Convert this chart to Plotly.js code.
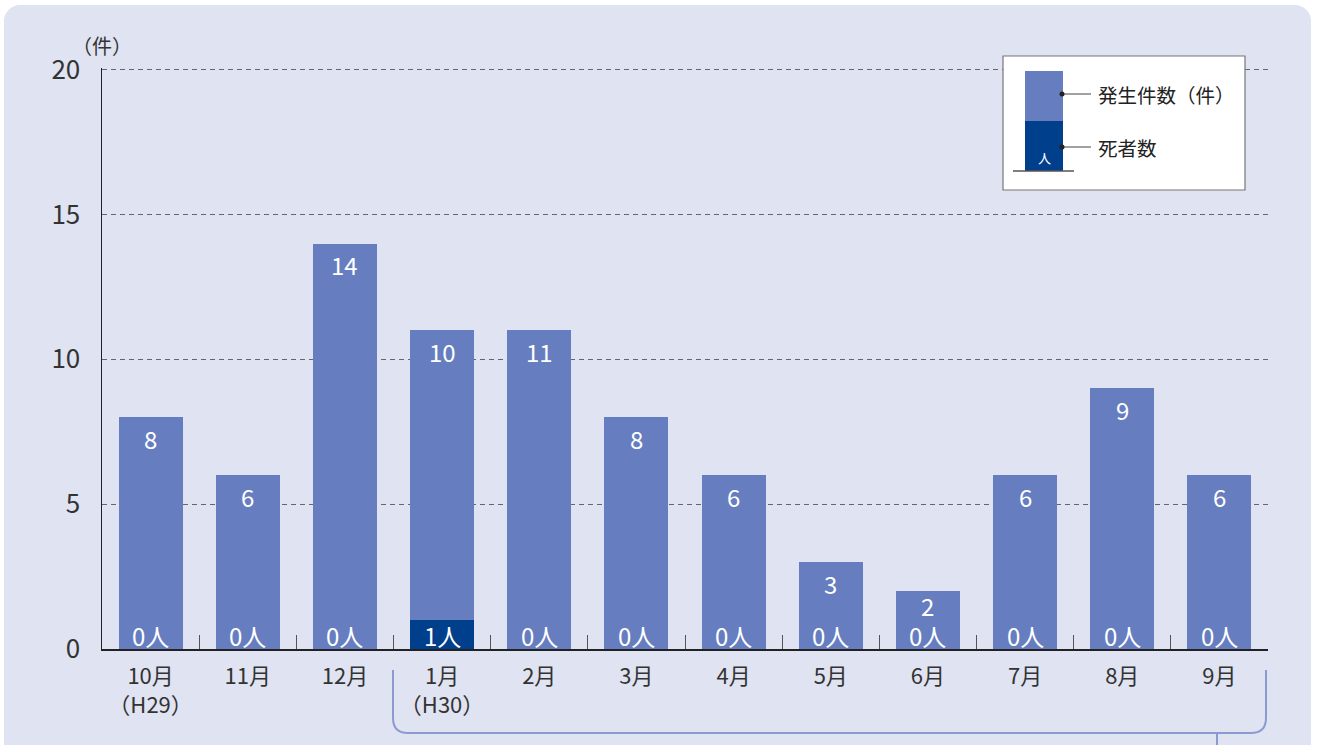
<!DOCTYPE html>
<html><head><meta charset="utf-8">
<script src="https://cdn.plot.ly/plotly-3.0.1.min.js"></script>
<style>
html,body{margin:0;padding:0;background:#fff;}
#wrap{position:absolute;left:4px;top:5px;width:1307px;height:760px;background:#e0e3f1;border-radius:16px;}
#chart{position:absolute;left:0;top:0;width:1317px;height:745px;}
</style></head><body>
<div id="wrap"></div>
<div id="chart"></div>
<script>
const months = ["10月","11月","12月","1月","2月","3月","4月","5月","6月","7月","8月","9月"];
const monthLabels = ["10月<br>（H29）","11月","12月","1月<br>（H30）","2月","3月","4月","5月","6月","7月","8月","9月"];
const incidents = [8,6,14,10,11,8,6,3,2,6,9,6];
const deaths = [0,0,0,1,0,0,0,0,0,0,0,0];
const yTicks = [0,5,10,15,20];

const FONT = '"Noto Sans CJK JP", "Noto Sans", sans-serif';
const LIGHT = '#667ec0';
const DARK = '#003f8b';

const traces = [
  {type:'bar', x:months, y:deaths, marker:{color:DARK, line:{width:0}}, width:0.66, hoverinfo:'skip', showlegend:false},
  {type:'bar', x:months, y:incidents, marker:{color:LIGHT, line:{width:0}}, width:0.66, hoverinfo:'skip', showlegend:false}
];

const annotations = [];
months.forEach((m,i)=>{
  const top = incidents[i] + deaths[i];
  annotations.push({x:m, y:top, xref:'x', yref:'y', text:String(incidents[i]), showarrow:false,
    yanchor:'middle', yshift:(top < 2.5 ? -14 : -21), font:{family:FONT, size:24, color:'#ffffff'}});
  annotations.push({x:m, y:0, xref:'x', yref:'y', text:deaths[i]+'人', showarrow:false,
    yanchor:'middle', yshift:14, font:{family:FONT, size:24, color:'#ffffff'}});
});
// unit label
annotations.push({xref:'paper', yref:'paper', x:0, y:1, xanchor:'center', yanchor:'middle', yshift:23,
  text:'（件）', showarrow:false, font:{family:FONT, size:20, color:'#333'}});

// legend box (paper coords: plot x 102..1268 => w 1166; y 68..649 => h 581)
function px(X){return (X-102)/1166;}
function py(Y){return (649-Y)/581;}
const shapes = [
  {type:'rect', xref:'paper', yref:'paper', x0:px(1003), x1:px(1245), y0:py(190), y1:py(56), fillcolor:'#ffffff', line:{color:'#777', width:1.2}},
  {type:'rect', xref:'paper', yref:'paper', x0:px(1025), x1:px(1063), y0:py(121), y1:py(71), fillcolor:LIGHT, line:{width:0}},
  {type:'rect', xref:'paper', yref:'paper', x0:px(1025), x1:px(1063), y0:py(171), y1:py(121), fillcolor:DARK, line:{width:0}},
  {type:'line', xref:'paper', yref:'paper', x0:px(1013), x1:px(1074), y0:py(171), y1:py(171), line:{color:'#555', width:1.5}},
  {type:'line', xref:'paper', yref:'paper', x0:px(1062), x1:px(1091), y0:py(94), y1:py(94), line:{color:'#444', width:1}},
  {type:'line', xref:'paper', yref:'paper', x0:px(1062), x1:px(1091), y0:py(147), y1:py(147), line:{color:'#444', width:1}},
  {type:'circle', xref:'paper', yref:'paper', x0:px(1059.5), x1:px(1064.5), y0:py(96.5), y1:py(91.5), fillcolor:'#222', line:{width:0}},
  {type:'circle', xref:'paper', yref:'paper', x0:px(1059.5), x1:px(1064.5), y0:py(149.5), y1:py(144.5), fillcolor:'#222', line:{width:0}},
  // bracket
  {type:'path', xref:'paper', yref:'paper',
    path:'M '+px(393)+','+py(670)+' L '+px(393)+','+py(718)+' Q '+px(393)+','+py(733)+' '+px(408)+','+py(733)+
         ' L '+px(1251)+','+py(733)+' Q '+px(1266)+','+py(733)+' '+px(1266)+','+py(718)+' L '+px(1266)+','+py(670),
    line:{color:'#8b9bd2', width:2}},
  {type:'line', xref:'paper', yref:'paper', x0:px(1217), x1:px(1217), y0:py(733), y1:py(746), line:{color:'#8b9bd2', width:2}}
];
annotations.push({xref:'paper', yref:'paper', x:px(1096), y:py(94), xanchor:'left', yanchor:'middle', text:'発生件数（件）', showarrow:false, font:{family:FONT, size:19.5, color:'#222'}});
annotations.push({xref:'paper', yref:'paper', x:px(1096), y:py(147), xanchor:'left', yanchor:'middle', text:'死者数', showarrow:false, font:{family:FONT, size:19.5, color:'#222'}});
annotations.push({xref:'paper', yref:'paper', x:px(1044), y:py(157), xanchor:'center', yanchor:'middle', text:'人', showarrow:false, font:{family:FONT, size:13, color:'#fff'}});

const layout = {
  width:1317, height:745,
  margin:{l:102, r:49, t:68, b:96},
  paper_bgcolor:'rgba(0,0,0,0)', plot_bgcolor:'rgba(0,0,0,0)',
  barmode:'stack', bargap:0.34,
  font:{family:FONT, color:'#333'},
  xaxis:{type:'category', categoryarray:months, tickvals:months, ticktext:monthLabels,
    showline:true, linecolor:'#222', linewidth:1.5, showgrid:false, zeroline:false,
    ticks:'inside', tickson:'boundaries', ticklen:14, tickcolor:'#555', tickwidth:1,
    ticklabelstandoff:7, tickangle:0,
    tickfont:{family:FONT, size:22, color:'#333'}, fixedrange:true},
  yaxis:{range:[0,20.06], tickvals:yTicks, ticktext:yTicks.map(String), showline:true, linecolor:'#222', linewidth:1.5,
    showgrid:true, gridcolor:'#666', griddash:'5px,4px', gridwidth:1, zeroline:false, ticks:'',
    ticklabelstandoff:15, tickfont:{family:FONT, size:26, color:'#333'}, fixedrange:true},
  shapes:shapes, annotations:annotations
};
Plotly.newPlot('chart', traces, layout, {displayModeBar:false, staticPlot:true});
</script></body></html>
